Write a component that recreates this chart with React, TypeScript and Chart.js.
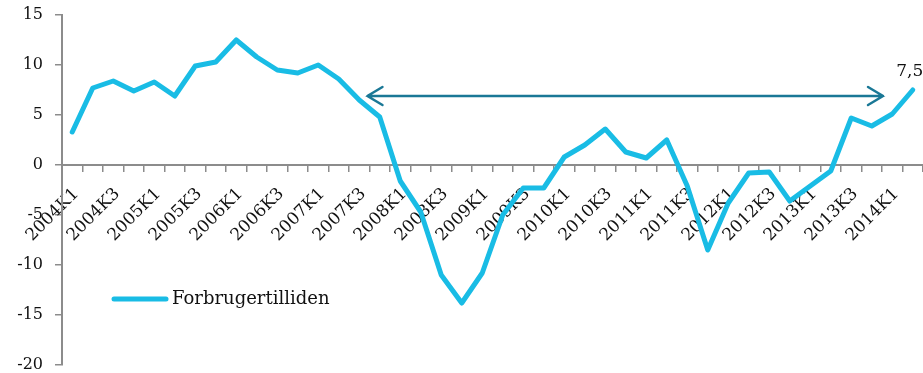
import { useEffect, useRef } from "react";
import { Chart, registerables } from "chart.js";

Chart.register(...registerables);

const categories = [
  "2004K1", "2004K2", "2004K3", "2004K4",
  "2005K1", "2005K2", "2005K3", "2005K4",
  "2006K1", "2006K2", "2006K3", "2006K4",
  "2007K1", "2007K2", "2007K3", "2007K4",
  "2008K1", "2008K2", "2008K3", "2008K4",
  "2009K1", "2009K2", "2009K3", "2009K4",
  "2010K1", "2010K2", "2010K3", "2010K4",
  "2011K1", "2011K2", "2011K3", "2011K4",
  "2012K1", "2012K2", "2012K3", "2012K4",
  "2013K1", "2013K2", "2013K3", "2013K4",
  "2014K1", "2014K2",
];

const confidence = [
  3.3, 7.7, 8.4, 7.4,
  8.3, 6.9, 9.9, 10.3,
  12.5, 10.8, 9.5, 9.2,
  10.0, 8.6, 6.5, 4.8,
  -1.6, -4.7, -11.0, -13.8,
  -10.8, -5.0, -2.3, -2.3,
  0.8, 2.0, 3.6, 1.3,
  0.7, 2.5, -2.1, -8.5,
  -3.8, -0.8, -0.7, -3.6,
  -2.1, -0.6, 4.7, 3.9,
  5.1, 7.5,
];

const seriesName = "Forbrugertilliden";
const lastValueLabel = "7,5";
const yMin = -20;
const yMax = 15;
const yStep = 5;

// double-headed arrow annotation (category index units, value units)
const arrowFrom = 14.4;
const arrowTo = 39.55;
const arrowLevel = 6.9;

// legend placement (value on y scale)
const legendLevel = -13.4;

const LINE_COLOR = "#19bce5";
const ARROW_COLOR = "#1a7896";
const AXIS_COLOR = "#8c8c8c";
const FONT = "'DejaVu Serif', serif";

const overlayPlugin = {
  id: "overlay",
  beforeDatasetsDraw(chart: any) {
    const { ctx, scales } = chart;
    const x1 = scales.x.getPixelForValue(arrowFrom);
    const x2 = scales.x.getPixelForValue(arrowTo);
    const y = scales.y.getPixelForValue(arrowLevel);
    ctx.save();
    ctx.strokeStyle = ARROW_COLOR;
    ctx.lineWidth = 2.5;
    ctx.lineCap = "round";
    ctx.beginPath();
    ctx.moveTo(x1, y);
    ctx.lineTo(x2, y);
    ctx.moveTo(x1 + 15, y - 9);
    ctx.lineTo(x1, y);
    ctx.lineTo(x1 + 15, y + 9);
    ctx.moveTo(x2 - 15, y - 9);
    ctx.lineTo(x2, y);
    ctx.lineTo(x2 - 15, y + 9);
    ctx.stroke();
    ctx.restore();
  },
  afterDatasetsDraw(chart: any) {
    const { ctx, scales, chartArea } = chart;
    ctx.save();
    // last value label
    const lastIdx = confidence.length - 1;
    const lx = scales.x.getPixelForValue(lastIdx);
    const ly = scales.y.getPixelForValue(confidence[lastIdx]);
    ctx.fillStyle = "#111";
    ctx.font = `17px ${FONT}`;
    ctx.textAlign = "center";
    ctx.textBaseline = "alphabetic";
    ctx.fillText(lastValueLabel, lx - 3, ly - 14);
    // legend
    const legY = scales.y.getPixelForValue(legendLevel);
    const legX = chartArea.left + 52;
    ctx.strokeStyle = LINE_COLOR;
    ctx.lineWidth = 5;
    ctx.lineCap = "round";
    ctx.beginPath();
    ctx.moveTo(legX, legY);
    ctx.lineTo(legX + 52, legY);
    ctx.stroke();
    ctx.font = `18px ${FONT}`;
    ctx.textAlign = "left";
    ctx.textBaseline = "middle";
    ctx.fillText(seriesName, legX + 58, legY);
    ctx.restore();
  },
};

export default function App() {
  const ref = useRef<HTMLCanvasElement | null>(null);

  useEffect(() => {
    if (!ref.current) return;
    const chart = new Chart(ref.current, {
      type: "line",
      data: {
        labels: categories,
        datasets: [
          {
            label: seriesName,
            data: confidence,
            borderColor: LINE_COLOR,
            backgroundColor: LINE_COLOR,
            borderWidth: 5,
            pointRadius: 0,
            tension: 0,
            borderCapStyle: "round",
            borderJoinStyle: "round",
          },
        ],
      },
      options: {
        responsive: false,
        maintainAspectRatio: false,
        animation: false,
        devicePixelRatio: 1,
        layout: { padding: { top: 15, bottom: 8, left: 0, right: 0 } },
        plugins: {
          legend: { display: false },
          tooltip: { enabled: false },
        },
        scales: {
          x: {
            type: "category",
            position: { y: 0 },
            offset: true,
            grid: {
              display: true,
              drawOnChartArea: false,
              drawTicks: true,
              tickLength: 6,
              color: AXIS_COLOR,
              lineWidth: 1.5,
              offset: true,
            },
            border: { display: true, color: AXIS_COLOR, width: 2 },
            ticks: {
              autoSkip: false,
              maxRotation: 45,
              minRotation: 45,
              padding: 13,
              labelOffset: 4,
              color: "#111",
              font: { family: FONT, size: 17 },
              callback: (_v: any, i: number) => (i % 2 === 0 ? categories[i] : ""),
            },
            afterFit: (scale: any) => {
              scale.height = 0;
              scale.paddingLeft = 0;
              scale.paddingRight = 0;
            },
          },
          y: {
            min: yMin,
            max: yMax,
            grid: {
              display: true,
              drawOnChartArea: false,
              drawTicks: true,
              tickLength: 7,
              color: AXIS_COLOR,
              lineWidth: 1.5,
            },
            border: { display: true, color: AXIS_COLOR, width: 2 },
            ticks: {
              stepSize: yStep,
              padding: 12,
              color: "#111",
              font: { family: FONT, size: 16 },
            },
            afterFit: (scale: any) => {
              scale.width = 62;
              scale.paddingTop = 0;
              scale.paddingBottom = 0;
            },
          },
        },
      },
      plugins: [overlayPlugin],
    });
    return () => chart.destroy();
  }, []);

  return (
    <div style={{ position: "fixed", top: 0, left: 0, width: 923, height: 373, background: "#fff" }}>
      <canvas ref={ref} width={923} height={373} />
    </div>
  );
}
